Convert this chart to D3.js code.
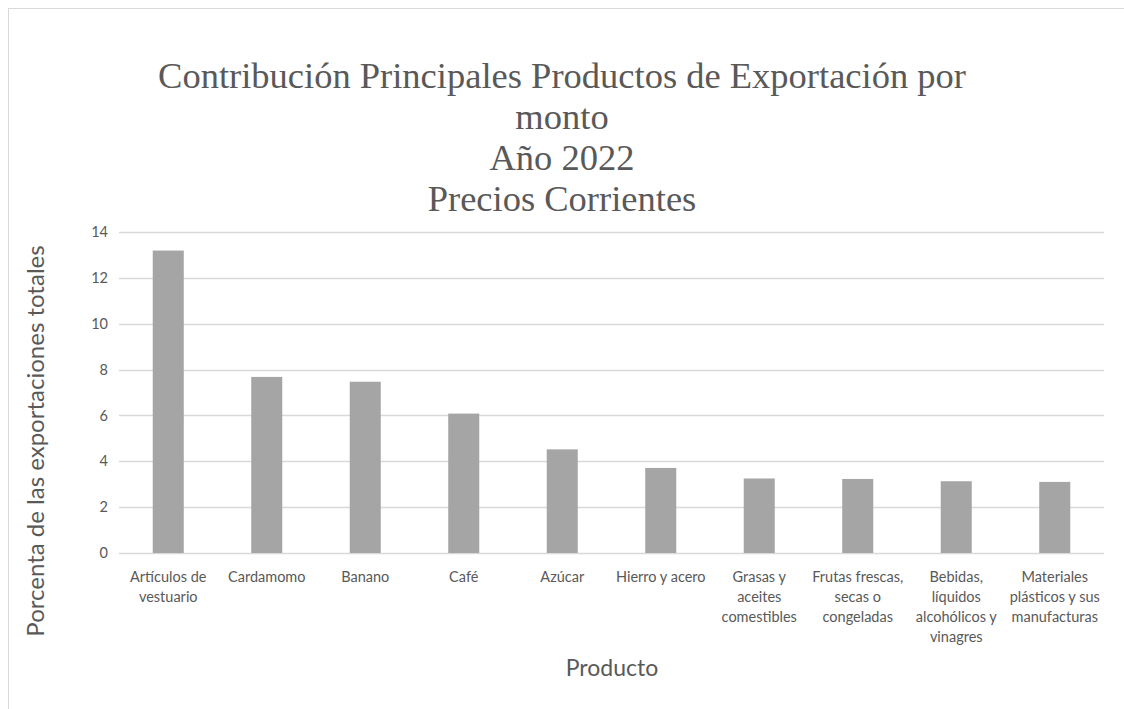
<!DOCTYPE html>
<html>
<head>
<meta charset="utf-8">
<script src="https://cdn.jsdelivr.net/npm/d3@7"></script>
<style>
  html, body { margin: 0; padding: 0; background: #ffffff; }
  svg { display: block; }
</style>
</head>
<body>
<svg id="chart" width="1124" height="709"></svg>
<script>
// Export products and their share of total exports (%), 2022
const categories = [
  "Artículos de\nvestuario",
  "Cardamomo",
  "Banano",
  "Café",
  "Azúcar",
  "Hierro y acero",
  "Grasas y\naceites\ncomestibles",
  "Frutas frescas,\nsecas o\ncongeladas",
  "Bebidas,\nlíquidos\nalcohólicos y\nvinagres",
  "Materiales\nplásticos y sus\nmanufacturas"
];
const shares = [13.19, 7.68, 7.47, 6.08, 4.52, 3.71, 3.25, 3.23, 3.13, 3.10];
const yTicks = [0, 2, 4, 6, 8, 10, 12, 14];
const titleLines = [
  "Contribución Principales Productos de Exportación por",
  "monto",
  "Año 2022",
  "Precios Corrientes"
];
const xTitle = "Producto";
const yTitle = "Porcenta de las exportaciones totales";

const svg = d3.select("#chart");
const W = 1124, H = 709;
const plot = { left: 119, right: 1104, top: 232, bottom: 553 };
const textColor = "#595959";
const sansFont = "Lato, 'Open Sans', sans-serif";

// chart frame
svg.append("rect")
  .attr("x", 8.5).attr("y", 8.5)
  .attr("width", W + 20).attr("height", H + 20)
  .attr("fill", "#ffffff")
  .attr("stroke", "#d9d9d9").attr("stroke-width", 1);

const x = d3.scaleBand()
  .domain(categories)
  .range([plot.left, plot.right])
  .padding(0);

const y = d3.scaleLinear()
  .domain([0, 14])
  .range([plot.bottom, plot.top]);

// horizontal gridlines
svg.append("g")
  .selectAll("line")
  .data(yTicks)
  .join("line")
  .attr("x1", plot.left).attr("x2", plot.right)
  .attr("y1", d => Math.round(y(d)) + 0.5)
  .attr("y2", d => Math.round(y(d)) + 0.5)
  .attr("stroke", "#d9d9d9")
  .attr("stroke-width", 1.3);

// y-axis tick labels
const yAxis = d3.axisLeft(y).tickValues(yTicks).tickSize(0).tickPadding(0);
const yg = svg.append("g")
  .attr("transform", `translate(${plot.left - 11},0)`)
  .call(yAxis);
yg.select(".domain").remove();
yg.selectAll("text")
  .attr("fill", textColor)
  .style("font-family", sansFont)
  .style("font-size", "14.5px");

// bars
const barFrac = 0.315;
svg.append("g")
  .selectAll("rect")
  .data(shares)
  .join("rect")
  .attr("x", (d, i) => x(categories[i]) + x.bandwidth() * (1 - barFrac) / 2)
  .attr("width", x.bandwidth() * barFrac)
  .attr("y", d => y(d))
  .attr("height", d => y(0) - y(d))
  .attr("fill", "#a5a5a5");

// x-axis category labels (multi-line)
const xAxis = d3.axisBottom(x).tickSize(0).tickPadding(0).tickFormat(() => "");
const xg = svg.append("g")
  .attr("transform", `translate(0,${plot.bottom})`)
  .call(xAxis);
xg.select(".domain").remove();
xg.selectAll(".tick").each(function(d) {
  const t = d3.select(this).select("text")
    .attr("y", 0)
    .attr("dy", null)
    .attr("fill", textColor)
    .attr("text-anchor", "middle")
    .style("font-family", sansFont)
    .style("font-size", "14.5px");
  d.split("\n").forEach((line, k) => {
    t.append("tspan")
      .attr("x", 0)
      .attr("y", 29 + k * 20)
      .text(line);
  });
});

// axis titles
svg.append("text")
  .attr("x", 612)
  .attr("y", 676)
  .attr("text-anchor", "middle")
  .attr("fill", textColor)
  .style("font-family", sansFont)
  .style("font-size", "23px")
  .text(xTitle);

svg.append("text")
  .attr("transform", "translate(44,441) rotate(-90)")
  .attr("text-anchor", "middle")
  .attr("fill", textColor)
  .style("font-family", sansFont)
  .style("font-size", "24px")
  .text(yTitle);

// chart title
const title = svg.append("text")
  .attr("text-anchor", "middle")
  .attr("fill", textColor)
  .style("font-family", "'Liberation Serif', 'Times New Roman', serif")
  .style("font-size", "36.5px");
titleLines.forEach((line, k) => {
  title.append("tspan")
    .attr("x", 562)
    .attr("y", 88 + k * 41)
    .text(line);
});
</script>
</body>
</html>
